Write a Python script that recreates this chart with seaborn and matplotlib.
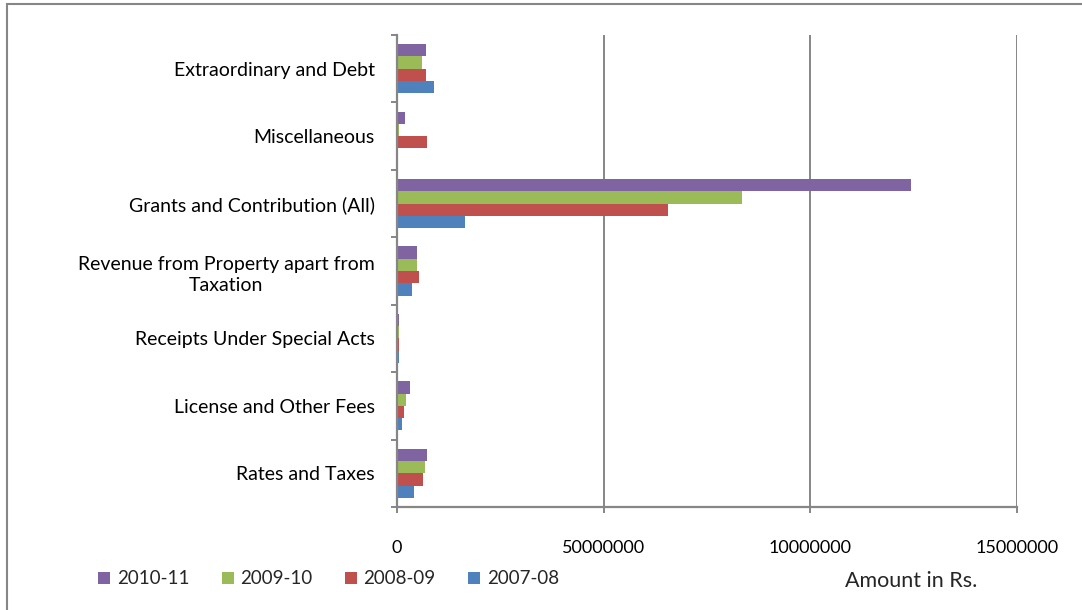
import matplotlib
matplotlib.use("Agg")
import matplotlib.pyplot as plt
import seaborn as sns
import pandas as pd
import numpy as np
from matplotlib.patches import Rectangle
from matplotlib.ticker import FixedLocator, FixedFormatter

categories = ["Extraordinary and Debt", "Miscellaneous", "Grants and Contribution (All)",
              "Revenue from Property apart from\nTaxation", "Receipts Under Special Acts",
              "License and Other Fees", "Rates and Taxes"]
series = ["2010-11", "2009-10", "2008-09", "2007-08"]
v2010_11 = [6.9e6, 1.9e6, 124.3e6, 4.9e6, 0.55e6, 3.1e6, 7.2e6]
v2009_10 = [6.0e6, 0.4e6, 83.5e6, 4.9e6, 0.5e6, 2.1e6, 6.7e6]
v2008_09 = [7.1e6, 7.3e6, 65.6e6, 5.4e6, 0.5e6, 1.8e6, 6.3e6]
v2007_08 = [9.0e6, 0.2e6, 16.5e6, 3.7e6, 0.5e6, 1.2e6, 4.2e6]
colors = ["#8064A2", "#9BBB59", "#C0504D", "#4F81BD"]
xticks = [0, 50000000, 100000000, 150000000]
xtick_labels = ["0", "50000000", "10000000", "15000000"]

rows = []
for s, vals in zip(series, [v2010_11, v2009_10, v2008_09, v2007_08]):
    for c, v in zip(categories, vals):
        rows.append({"Category": c, "Year": s, "Amount": v})
df = pd.DataFrame(rows)

sns.set_theme(style="white")
plt.rcParams['font.family'] = ['Lato', 'DejaVu Sans']

fig = plt.figure(figsize=(10.82, 6.10), dpi=100)
ax = fig.add_axes([397/1082, 1-507/610, (1017-397)/1082, (507-35)/610])

sns.barplot(data=df, y="Category", x="Amount", hue="Year", order=categories,
            hue_order=series, palette=colors, orient="h", width=0.73, gap=0,
            ax=ax, legend=False, saturation=1, linewidth=0)

gray = "#868686"
ax.set_xlim(0, 150000000)
ax.set_ylim(len(categories) - 0.5, -0.5)
ax.xaxis.set_major_locator(FixedLocator(xticks))
ax.xaxis.set_major_formatter(FixedFormatter(xtick_labels))
ax.set_xlabel("")
ax.set_ylabel("")
ax.grid(axis="x", color=gray, linewidth=1.4)
ax.set_axisbelow(True)
for side in ["top", "right"]:
    ax.spines[side].set_visible(False)
for side in ["left", "bottom"]:
    ax.spines[side].set_color(gray)
    ax.spines[side].set_linewidth(1.6)

ax.tick_params(axis="x", which="major", length=4.5, width=1.4, color=gray,
               bottom=True, pad=19, labelsize=13, labelcolor="#000000")
ax.tick_params(axis="y", which="major", length=0, pad=16, labelsize=14, labelcolor="#000000")
ax.yaxis.set_minor_locator(FixedLocator(np.arange(-0.5, len(categories), 1.0)))
ax.tick_params(axis="y", which="minor", length=4.5, width=1.4, color=gray, left=True)
for lbl in ax.get_yticklabels():
    lbl.set_horizontalalignment("right")
    lbl.set_multialignment("center")
    lbl.set_linespacing(1.35)

handles = [Rectangle((0, 0), 1, 1, facecolor=c, edgecolor="none") for c in colors]
fig.legend(handles, series, loc="center left", bbox_to_anchor=(98/1082, 1-579/610),
           ncol=4, frameon=False, fontsize=13.5, handlelength=0.65, handleheight=0.65,
           handletextpad=0.35, columnspacing=1.72, borderaxespad=0, borderpad=0)

fig.text(845/1082, 1-581/610, "Amount in Rs.", fontsize=15.5, ha="left", va="center")

fig.patches.append(Rectangle((7/1082, -0.1), 1.2, 1 - 4/610 + 0.1, transform=fig.transFigure,
                             fill=False, edgecolor=gray, linewidth=1.5))

fig.savefig("out.png", dpi=100)
